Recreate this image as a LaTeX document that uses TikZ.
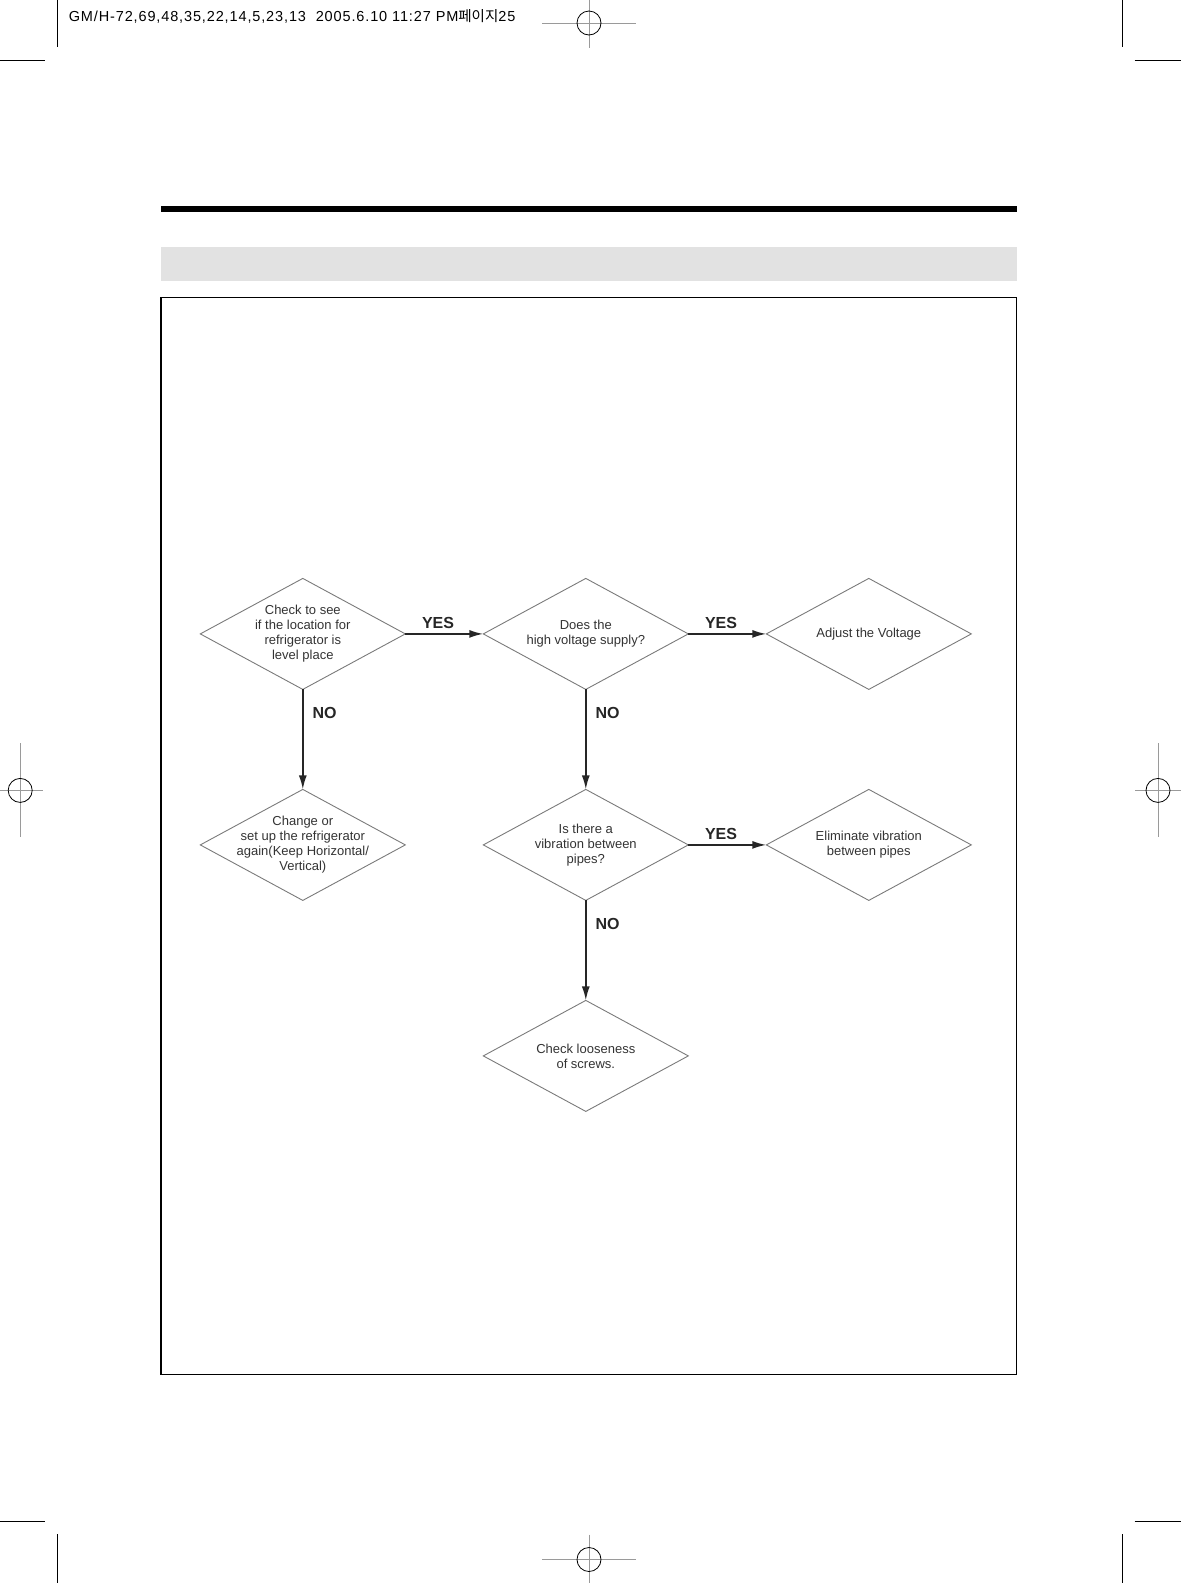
\documentclass[tikz,border=0pt]{standalone}
\usepackage{fontspec}
\setmainfont{Liberation Sans}
\newfontfamily\krfont{Noto Sans CJK KR}
\newfontfamily\slugfont[LetterSpace=6]{Liberation Sans}
\usepackage{tikz}
\usetikzlibrary{arrows.meta,positioning,shapes.geometric}
\definecolor{clEdge}{HTML}{7A7A7A}
\definecolor{clText}{HTML}{333333}
\definecolor{clArrow}{HTML}{262626}
\definecolor{clBand}{HTML}{E2E2E2}
\definecolor{clMark}{HTML}{9A9A9A}
\tikzset{
  decision/.style={diamond, draw=clEdge, line width=0.9pt, aspect=1.85,
                   minimum width=205pt, minimum height=111pt, inner sep=-6pt,
                   outer sep=0pt, align=center, text=clText,
                   font=\fontsize{13}{15}\selectfont},
  flow/.style={-{Latex[length=14pt,width=8pt]}, line width=1.7pt, draw=clArrow},
  flowlabel/.style={font=\bfseries\fontsize{16}{18}\selectfont, text=clArrow, inner sep=4pt},
  regline/.style={draw=clMark, line width=1pt},
  trimline/.style={draw=black, line width=1pt},
}

\begin{document}
\begin{tikzpicture}[x=1pt, y=-1pt, node distance=100pt and 78pt]
  \useasboundingbox (0,0) rectangle (1181,1583);
  % trim and registration marks
  \draw[trimline] (57.5,0) -- (57.5,47.4) (0,60.6) -- (45.4,60.6);
  \draw[trimline] (1122.5,0) -- (1122.5,47.4) (1134.6,60.6) -- (1181,60.6);
  \draw[trimline] (57.5,1534.3) -- (57.5,1583) (0,1521.2) -- (45.4,1521.2);
  \draw[trimline] (1122.5,1534.3) -- (1122.5,1583) (1134.6,1521.2) -- (1181,1521.2);
  \foreach \cx/\cy in {589/23, 589/1559.5}{
    \draw[regline] (\cx-47,\cy) -- (\cx+47,\cy) (\cx,\cy-25) -- (\cx,\cy+25);
    \draw[line width=0.8pt] (\cx,\cy) circle[radius=12];
  }
  \foreach \cx/\cy in {20.2/790.4, 1158/790.4}{
    \draw[regline] (\cx-23,\cy) -- (\cx+23,\cy) (\cx,\cy-47) -- (\cx,\cy+47);
    \draw[line width=0.8pt] (\cx,\cy) circle[radius=12];
  }
  \node[anchor=base west, inner sep=0pt, font=\slugfont\fontsize{14.5}{16}\selectfont] (slug) at (68.6,21.5)
    {GM/H-72,69,48,35,22,14,5,23,13\ \ 2005.6.10 11:27 PM{\krfont 페이지}25};
  % page head
  \fill[black] (161,205.8) rectangle (1016.5,212);
  \fill[clBand] (161,247.3) rectangle (1016.5,280.7);
  \draw[line width=1.2pt] (161,297.8) rectangle (1016.5,1374.8);

  % flow chart
  \node[decision] (level) at (302.8,633.9) {Check to see\\if the location for\\refrigerator is\\level place};
  \node[decision, right=of level] (volt) {Does the\\high voltage supply?};
  \node[decision, right=of volt] (adjust) {Adjust the Voltage};
  \node[decision, below=of level] (reset) {Change or\\set up the refrigerator\\again(Keep Horizontal/\\Vertical)};
  \node[decision, below=of volt] (vib) {Is there a\\vibration between\\pipes?};
  \node[decision, right=of vib] (elim) {Eliminate vibration\\between pipes};
  \node[decision, below=of vib] (screw) {Check looseness\\of screws.};

  \draw[flow] (level) -- node[flowlabel, above, pos=0.42]{YES} (volt);
  \draw[flow] (volt) -- node[flowlabel, above, pos=0.42]{YES} (adjust);
  \draw[flow] (vib) -- node[flowlabel, above, pos=0.42]{YES} (elim);
  \draw[flow] (level) -- node[flowlabel, right, pos=0.24, xshift=5pt]{NO} (reset);
  \draw[flow] (volt) -- node[flowlabel, right, pos=0.24, xshift=5pt]{NO} (vib);
  \draw[flow] (vib) -- node[flowlabel, right, pos=0.24, xshift=5pt]{NO} (screw);
\end{tikzpicture}
\end{document}
